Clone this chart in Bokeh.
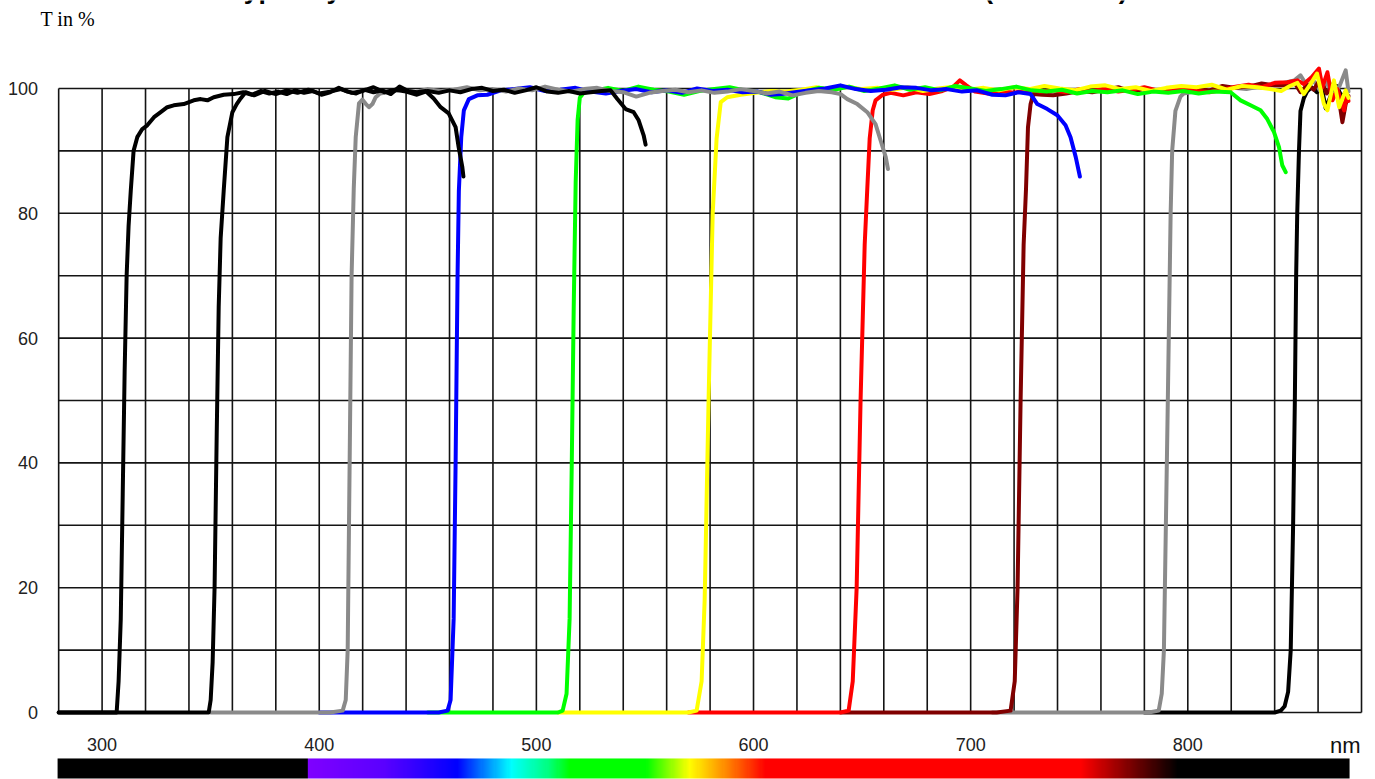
import numpy as np
from bokeh.plotting import figure
from bokeh.models import Range1d
from bokeh.core.properties import value
from bokeh.embed import file_html
from bokeh.resources import INLINE

# ---------------- data ----------------
black1_wl = [280, 306.7, 307.6, 308.6, 309.5, 310.4, 311.3, 312.2, 313.2, 314.5,
             316.2, 318.5, 320.8, 323.9, 327.0, 330.0, 333.0, 337.6, 342.2, 345.4,
             348.5, 351.4, 356.0, 360.6, 365, 369, 373, 377, 381, 385,
             389, 393, 397, 401, 405, 409, 413, 417, 421, 425,
             429, 433, 437, 441, 445, 449, 452.7, 455.9, 459.6, 462.8,
             464.2, 465.9, 466.4]
black1_T = [0, 0, 5, 15, 35, 55, 70, 78, 83.6, 90,
            92.2, 93.5, 94.1, 95.4, 96.2, 97.0, 97.3, 97.5, 98.1, 98.3,
            98.1, 98.6, 99.0, 99.1, 99.4, 99.0, 99.6, 99.2, 99.5, 99.1,
            99.7, 99.3, 99.6, 99.0, 99.4, 100.1, 99.5, 99.2, 99.8, 99.4,
            99.7, 99.1, 100.3, 99.6, 99.4, 99.6, 98.4, 97.0, 96.0, 93.8,
            90.6, 87.4, 85.9]

black2_wl = [280, 349.1, 350.0, 350.9, 351.8, 352.8, 353.7, 354.6, 356.0, 357.7,
             360.0, 362.0, 363.8, 366.1, 370, 375, 380, 385, 390, 395,
             400, 405, 410, 415, 420, 425, 430, 435, 440, 445,
             450, 455, 460, 465, 470, 475, 480, 485, 490, 495,
             500, 505, 510, 515, 520, 525, 530, 534.2, 537.3, 541.1,
             544.8, 547.1, 549.4, 550.3]
black2_T = [0, 0, 2, 8, 20, 45, 65, 76, 83.6, 92.2,
            96.2, 97.5, 98.4, 99.4, 98.9, 99.6, 99.1, 99.7, 99.3, 99.8,
            99.2, 99.5, 99.9, 99.3, 99.6, 100.2, 99.4, 99.8, 99.5, 99.0,
            99.6, 99.3, 99.7, 99.4, 99.9, 100.1, 99.6, 99.8, 99.3, 99.7,
            100.2, 99.5, 99.3, 99.6, 99.2, 99.4, 99.6, 99.7, 98.3, 96.7,
            96.2, 94.9, 92.5, 91.0]

gray415_wl = [350, 405, 410.8, 412.2, 413.1, 414.0, 414.9, 415.9, 416.8, 418.3,
              419.9, 421.5, 422.9, 424.5, 426.0, 428, 433, 438, 444, 450,
              456, 462, 468, 474, 480, 486, 492, 498, 504, 510,
              516, 522, 528, 534, 540, 546, 552, 558, 564, 570,
              576, 582, 588, 594, 600, 606, 612, 618, 624, 630,
              636, 640.1, 643.2, 647.8, 652.4, 656.2, 658.5, 660.9, 661.9]
gray415_T = [0, 0, 0.3, 2, 10, 40, 70, 84, 92.2, 97.6,
             98.2, 97.5, 97.0, 97.5, 98.6, 99.2, 99.5, 99.8, 99.4, 99.9,
             99.6, 99.8, 100.2, 99.7, 99.9, 99.5, 100.0, 99.7, 100.3, 99.8,
             99.5, 99.9, 100.1, 99.6, 99.4, 98.7, 99.3, 99.6, 99.8, 99.4,
             99.7, 99.3, 99.5, 99.9, 99.6, 99.2, 99.5, 98.9, 99.3, 99.6,
             99.4, 99.1, 98.3, 97.5, 96.2, 94.3, 91.7, 89.0, 87.1]

blue462_wl = [400, 455, 459.1, 460.5, 461.9, 462.8, 463.7, 464.3, 465.4, 466.6,
              468.9, 472.8, 477.4, 483.6, 490, 497, 504, 511, 518, 525,
              532, 539, 546, 553, 560, 567, 574, 581, 588, 595,
              602, 608, 613, 619, 626, 633, 640, 647, 654, 661,
              668, 675, 682, 689, 696, 703, 710, 716, 722, 727.6,
              730.7, 735.3, 739.9, 743.7, 746.0, 748.4, 750.3]
blue462_T = [0, 0, 0.3, 2, 15, 40, 70, 83.6, 92.2, 96.5,
             98.3, 98.9, 99.0, 99.7, 99.9, 100.2, 99.6, 99.8, 100.1, 99.5,
             99.2, 99.6, 99.9, 99.4, 99.7, 99.3, 100.0, 99.6, 99.8, 99.4,
             99.5, 99.0, 99.1, 99.4, 99.7, 100.0, 100.5, 99.9, 99.6, 99.8,
             100.2, 100.1, 99.7, 99.9, 99.5, 99.7, 99.0, 98.9, 99.4, 99.1,
             97.5, 96.7, 95.7, 94.1, 92.2, 89.0, 85.9]

green517_wl = [450, 510, 512.1, 513.9, 515.3, 516.3, 517.2, 518.1, 519.0, 520.0,
               521.8, 527, 533, 540, 547, 554, 561, 568, 575, 582,
               589, 596, 603, 610, 616, 623, 630, 637, 644, 651,
               658, 665, 672, 679, 686, 693, 700, 707, 714, 721,
               728, 735, 742, 749, 756, 763, 770, 777, 784, 791,
               798, 805, 812, 819.7, 824.3, 828.9, 833.5, 836.6, 839.7, 842.0,
               843.5, 845.1]
green517_T = [0, 0, 0.3, 3, 15, 40, 65, 85, 95, 98.5,
              99.3, 99.7, 100.1, 99.6, 100.3, 99.8, 99.5, 99.0, 99.6, 99.9,
              100.2, 99.7, 99.4, 98.6, 98.4, 99.5, 100.1, 99.8, 100.3, 99.6,
              100.0, 100.5, 99.8, 100.2, 99.7, 100.4, 100.0, 99.6, 99.9, 100.3,
              99.7, 99.5, 99.8, 99.2, 99.6, 99.4, 99.7, 99.1, 99.5, 99.3,
              99.6, 99.2, 99.5, 99.4, 98.1, 97.3, 96.5, 95.1, 93.0, 90.6,
              87.7, 86.6]

yellow580_wl = [510, 570, 573.8, 576.1, 577.5, 579.3, 581.2, 583.0, 584.9, 587.9,
                594.1, 601, 608, 615, 622, 629, 636, 643, 650, 657,
                664, 671, 678, 685, 692, 699, 706, 713, 720, 727,
                734, 741, 748, 755, 762, 769, 776, 783, 790, 797,
                804, 811, 818, 825, 832, 838, 843, 847, 850.5, 853.4,
                856.5, 859.5, 862.7, 864.3, 867.3, 869.7, 872.7, 874]
yellow580_T = [0, 0, 0.3, 5, 18, 50, 80, 92, 97.8, 98.6,
               99.0, 99.3, 99.6, 99.5, 99.8, 100.2, 99.7, 100.3, 99.9, 100.1,
               99.8, 100.2, 99.6, 100.0, 100.3, 99.8, 100.1, 99.7, 100.2, 99.9,
               100.4, 100.0, 99.7, 100.3, 100.5, 99.9, 100.2, 99.6, 100.1, 100.4,
               100.2, 100.6, 99.8, 100.4, 100.2, 99.9, 99.6, 100.4, 100.9, 99.1,
               100.7, 102.4, 97.5, 96.5, 101.3, 97.0, 99.7, 98.5]

red650_wl = [570, 640, 643.8, 645.7, 647.5, 649.3, 651.2, 652.4, 653.5, 654.9,
             656.2, 659.5, 663.2, 669, 675, 681, 687, 692, 695, 698,
             702, 708, 714, 720, 726, 732, 738, 744, 750, 756,
             762, 768, 774, 780, 786, 792, 798, 804, 810, 816,
             822, 828, 834, 840, 845.8, 850.5, 853.4, 857, 860.4, 862,
             864.3, 866.6, 868.9, 872, 873.2, 874]
red650_T = [0, 0, 0.3, 5, 20, 50, 75, 84, 92, 96.5,
            98.1, 99.0, 99.3, 98.9, 99.4, 99.1, 99.6, 100.3, 101.3, 100.5,
            99.5, 99.2, 99.6, 99.3, 99.8, 99.5, 99.7, 99.4, 99.9, 99.6,
            100.0, 99.5, 99.8, 100.2, 99.7, 99.9, 100.1, 99.6, 99.4, 99.8,
            100.3, 100.6, 100.2, 100.9, 101.0, 101.3, 100.7, 101.8, 103.2, 100.2,
            102.6, 98.1, 99.9, 96.5, 99.1, 98.0]

darkred720_wl = [640, 712, 718.4, 720.3, 721.6, 723.0, 724.4, 725.5, 726.4, 727.6,
                 728.9, 733, 738, 744, 750, 756, 762, 768, 774, 780,
                 786, 792, 798, 804, 810, 816, 822, 828, 834, 840,
                 845.8, 849, 851.9, 855, 858, 861, 864, 867, 869.5, 871.2,
                 872.7, 874]
darkred720_T = [0, 0, 0.3, 5, 20, 50, 75, 84, 93.8, 97.5,
                99.1, 99.0, 98.9, 99.2, 99.6, 99.4, 99.8, 100.2, 99.5, 99.9,
                99.6, 100.1, 99.8, 100.0, 99.7, 100.4, 100.1, 100.3, 100.8, 100.5,
                100.5, 101.0, 99.4, 100.6, 99.8, 101.5, 99.2, 100.8, 98.5, 94.6,
                97.5, 98.8]

gray790_wl = [710, 782, 786.6, 788.0, 789.0, 790.8, 792.1, 792.8, 794.3, 796.6,
              798.1, 803, 809, 815, 821, 827, 833, 839, 844, 849.1,
              851.9, 855, 858, 861, 864, 867, 870, 872.7, 874]
gray790_T = [0, 0, 0.3, 3, 10, 50, 80, 90, 96.4, 98.7,
             99.2, 99.5, 99.8, 99.6, 100.1, 99.9, 100.3, 100.6, 100.9, 101.3,
             102.1, 100.4, 101.2, 99.6, 100.9, 98.8, 100.5, 102.9, 99.5]

black850_wl = [780, 840, 842.8, 844.6, 846.2, 847.4, 848.5, 849.3, 849.9, 850.4,
               851.2, 851.9, 853.4, 854.9, 857, 859.5, 861.5, 863.5, 866, 868.5,
               871, 873.5]
black850_T = [0, 0, 0.3, 1, 3.3, 10, 30, 50, 70, 80,
              90, 96.4, 98.4, 99.5, 100.2, 99.4, 100.6, 96.8, 99.0, 100.4,
              98.6, 99.8]

y_ticks = [0, 20, 40, 60, 80, 100]
x_tick_labels = [300, 400, 500, 600, 700, 800]
grid_x = list(range(280, 881, 20))
grid_y = list(range(0, 101, 10))

# spectrum bar colour stops (nm, colour)
spec_nm = [279.5, 394.0, 394.5, 430, 463, 488, 505, 515, 550, 570, 588, 605, 750, 772, 795, 874.5]
spec_col = ["#000000", "#000000", "#8000ff", "#5a00ff", "#0000ff", "#00ffff", "#00ff80", "#00ff00",
            "#00ff00", "#ffff00", "#ff8000", "#ff0000", "#ff0000", "#800000", "#000000", "#000000"]

# curves in drawing order (the longest-wavelength edge first, so shorter ones lie on top)
curves = [
    (black850_wl, black850_T, "#000000"),
    (gray790_wl, gray790_T, "#8a8a8a"),
    (darkred720_wl, darkred720_T, "#800000"),
    (red650_wl, red650_T, "#ff0000"),
    (yellow580_wl, yellow580_T, "#ffff00"),
    (green517_wl, green517_T, "#00ff00"),
    (blue462_wl, blue462_T, "#0000ff"),
    (gray415_wl, gray415_T, "#8a8a8a"),
    (black2_wl, black2_T, "#000000"),
    (black1_wl, black1_T, "#000000"),
]
for wl, t, _ in curves:
    assert len(wl) == len(t)

# ---------------- figure ----------------
# the frame covers the whole canvas so that every text can be drawn in data space
XPX = 2.1714                      # pixels per nm
X0 = 280 - 58.17 / XPX            # nm at the left canvas edge
X1 = X0 + 1375 / XPX
p = figure(frame_width=1375, frame_height=779, width=1375, height=779,
           x_range=Range1d(X0, X1), y_range=Range1d(-10.74, 114.10),
           output_backend="svg", toolbar_location=None,
           min_border_left=0, min_border_right=0, min_border_top=0, min_border_bottom=0,
           x_axis_location=None, y_axis_location=None,
           background_fill_color="white", border_fill_color="white")
p.outline_line_color = None
p.xgrid.visible = False
p.ygrid.visible = False

# grid (bounded to 0..100 and 280..880)
gcol = "#141414"
p.segment(x0=grid_x, y0=[grid_y[0]] * len(grid_x), x1=grid_x, y1=[grid_y[-1]] * len(grid_x),
          line_color=gcol, line_width=1.6)
p.segment(x0=[grid_x[0]] * len(grid_y), y0=grid_y, x1=[grid_x[-1]] * len(grid_y), y1=grid_y,
          line_color=gcol, line_width=1.6)

for wl, t, col in curves:
    p.line(wl, t, line_color=col, line_width=4, line_join="round", line_cap="round")

# y tick labels
p.text(x=[X0 + 37.5 / XPX] * len(y_ticks), y=y_ticks, text=[str(v) for v in y_ticks],
       text_align="right", text_baseline="middle", text_font=value("Liberation Sans"),
       text_font_size="18px", text_color="#222222")

# x tick labels
p.text(x=x_tick_labels, y=[-5.13] * len(x_tick_labels), text=[str(v) for v in x_tick_labels],
       text_align="center", text_baseline="middle", text_font=value("Liberation Sans"),
       text_font_size="18px", text_color="#222222")
p.text(x=[879.6], y=[-5.3], text=["nm"], text_align="right", text_baseline="middle",
       text_font=value("Liberation Sans"), text_font_size="22px", text_color="#111111")

# spectrum bar
nm_cols = np.arange(spec_nm[0], spec_nm[-1], 0.5)
def hex2rgb(h):
    return [int(h[i:i + 2], 16) for i in (1, 3, 5)]
rgb = np.array([hex2rgb(c) for c in spec_col], dtype=float)
img = np.zeros((1, len(nm_cols)), dtype=np.uint32)
view = img.view(dtype=np.uint8).reshape((1, len(nm_cols), 4))
for k in range(3):
    view[0, :, k] = np.interp(nm_cols, spec_nm, rgb[:, k]).astype(np.uint8)
view[0, :, 3] = 255
p.image_rgba(image=[img], x=spec_nm[0], y=-10.58, dw=spec_nm[-1] - spec_nm[0], dh=3.21)

# texts above the grid
p.text(x=[X0 + 40 / XPX], y=[111.1], text=["T in %"], text_font=value("Liberation Serif"),
       text_font_size="20px", text_color="black", text_baseline="middle", text_align="left")
p.text(x=[X0 + 229 / XPX], y=[115.8],
       text=["Typically achieved transmission curves of the colour filters (measured)"],
       text_font=value("Liberation Sans"), text_font_style="bold", text_font_size="26.6px",
       text_color="black", text_baseline="middle", text_align="left")

open("out.html", "w").write(file_html(p, INLINE))
